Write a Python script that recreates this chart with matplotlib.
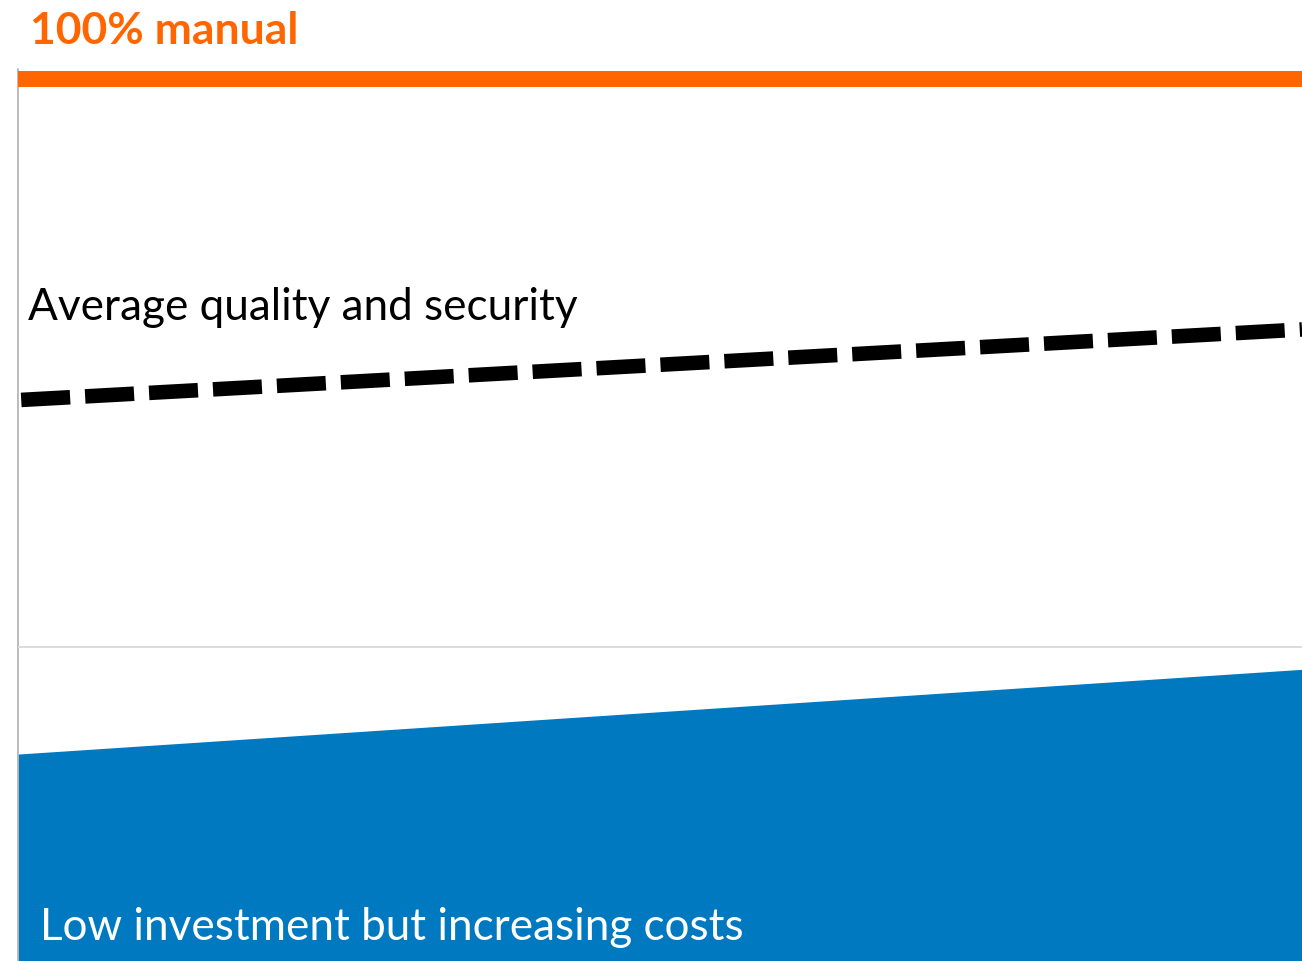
import matplotlib.pyplot as plt

# chart values (axes units: x 0..10 time, y 0..10 level)
x = [0, 10]
quality = [6.29, 7.08]      # dashed "average quality and security"
cost = [2.32, 3.27]         # blue area "investment / costs"
top_level = 9.89            # orange band
mid_level = 3.52            # gray reference line

title = "100% manual"
quality_label = "Average quality and security"
cost_label = "Low investment but increasing costs"

orange = "#FF6600"
blue = "#0079C1"

plt.rcParams['font.family'] = ['Lato', 'DejaVu Sans']

fig = plt.figure(figsize=(13.02, 9.62), dpi=100)
ax = fig.add_axes([18 / 1302, 0, 1 - 18 / 1302, (962 - 70) / 962])
ax.set_xlim(-0.015, 10)
ax.set_ylim(0, 10)
ax.axis('off')

# left axis line
ax.plot([-0.015, -0.015], [0, 10], color="#b0b0b0", lw=1.2, clip_on=False)

ax.fill_between([-0.015, 10], 0, cost, color=blue, lw=0)
ax.axhline(mid_level, color="#d9d9d9", lw=1.3)
ax.axhline(top_level, color=orange, lw=11.5, solid_capstyle='butt')

ln, = ax.plot([0.01, 10], quality, color="black", lw=10.5, solid_capstyle='butt')
ln.set_dashes([3.36, 1.03])
ln.set_dash_capstyle('butt')

fig.text(30 / 1302, 1 - 44 / 962, title, color=orange, fontsize=32,
         fontweight='bold', ha='left', va='baseline')
fig.text(28 / 1302, 1 - 320 / 962, quality_label, color="black", fontsize=31.8,
         ha='left', va='baseline')
fig.text(40 / 1302, 1 - 940 / 962, cost_label, color="white", fontsize=31.7,
         ha='left', va='baseline')

fig.savefig('out.png', dpi=100)
